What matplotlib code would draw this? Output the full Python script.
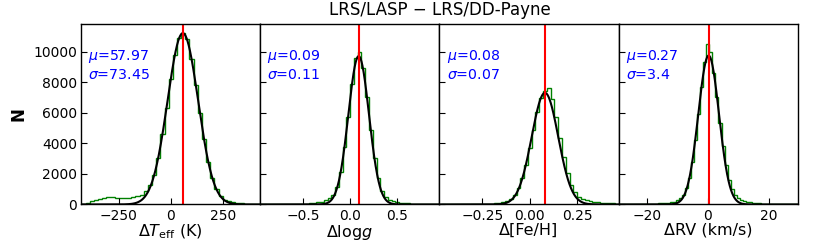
import numpy as np
import matplotlib
matplotlib.use("Agg")
import matplotlib.pyplot as plt

# ---- data ----
xlabels = [r"Δ$T_{\rm eff}$ (K)", r"Δlog$g$", "Δ[Fe/H]", "ΔRV (km/s)"]
mu_vals = [57.97, 0.09, 0.08, 0.27]
sigma_vals = [73.45, 0.11, 0.07, 3.4]
mu_text = ["57.97", "0.09", "0.08", "0.27"]
sigma_text = ["73.45", "0.11", "0.07", "3.4"]
fit_amp = [11200, 9700, 7300, 9740]
xlims = [(-432, 430), (-0.96, 0.95), (-0.477, 0.468), (-29.3, 29.5)]
xticks = [[-250, 0, 250], [-0.5, 0.0, 0.5], [-0.25, 0.00, 0.25], [-20, 0, 20]]
yticks = [0, 2000, 4000, 6000, 8000, 10000]

teff_edges = np.arange(-430, 431, 20)
teff_counts = [40, 110, 200, 300, 380, 430, 460, 470, 450, 420, 400, 420, 480, 560, 650,
               850, 1250, 1950, 3050, 4600, 6300, 8200, 9800, 10900, 11200, 10800, 9500,
               7800, 6000, 4250, 2800, 1750, 1000, 560, 320, 200, 140, 100, 75, 55, 40, 30, 25]

logg_edges = np.linspace(-0.96, 0.96, 49)
logg_counts = [5, 5, 5, 8, 8, 10, 12, 15, 20, 25,
               30, 40, 55, 75, 100, 140, 190, 270, 400, 650, 1150, 2150, 3750, 5750, 7900,
               9600, 10000, 8900, 7000, 4900, 3050, 1700, 900, 500, 320, 220, 160, 120, 90,
               70, 55, 45, 35, 28, 22, 18, 15, 12]

feh_edges = np.linspace(-0.47, 0.47, 48)
feh_counts = [5, 5, 6, 7, 8, 10, 12, 15, 18, 22, 28, 35, 45, 60,
              80, 110, 160, 240, 380, 620, 1050, 1700, 2600, 3700, 4900, 6050, 6950, 7450,
              7600, 6900, 5700, 4350, 3100, 2050, 1300, 800, 520, 370, 280, 220, 175, 140,
              115, 95, 80, 68, 58]

rv_edges = np.arange(-29.5, 29.6, 1.0)
rv_counts = [10, 12, 14, 16, 18, 21, 24, 28, 32, 37, 43, 50, 58, 68, 80, 95, 115, 145, 190,
             270, 400, 640, 1050, 1750, 2800, 4200, 5900, 7700, 9300,
             10500, 10000, 8600, 7000, 5300, 3800, 2550, 1600, 1000, 620, 400, 280, 210, 165,
             130, 105, 85, 70, 58, 48, 40, 34, 29, 25, 21, 18, 15, 13, 11, 9]

edges_all = [teff_edges, logg_edges, feh_edges, rv_edges]
counts_all = [teff_counts, logg_counts, feh_counts, rv_counts]

# ---- plot ----
fig = plt.figure(figsize=(8.14, 2.44), dpi=100)
fig.subplots_adjust(left=0.0995, right=0.980, bottom=0.162, top=0.9016, wspace=0)
axes = fig.subplots(1, 4, sharey=True)

for i, ax in enumerate(axes):
    e = np.asarray(edges_all[i])
    c = np.asarray(counts_all[i], dtype=float)
    ax.stairs(c, e, color="green", lw=1.0)
    x = np.linspace(xlims[i][0], xlims[i][1], 600)
    ax.plot(x, fit_amp[i] * np.exp(-(x - mu_vals[i]) ** 2 / (2 * sigma_vals[i] ** 2)),
            color="black", lw=1.5)
    ax.axvline(mu_vals[i], color="red", lw=1.5)
    ax.set_xlim(*xlims[i])
    ax.set_ylim(0, 11800)
    ax.set_xticks(xticks[i])
    ax.set_yticks(yticks)
    ax.tick_params(direction="in", labelsize=10, length=4, pad=3)
    ax.set_xlabel(xlabels[i], fontsize=11.5, labelpad=0)
    ax.text(0.04, 0.82, r"$\mu$=" + mu_text[i], transform=ax.transAxes, color="blue",
            fontsize=10.2, va="center", ha="left")
    ax.text(0.04, 0.715, r"$\sigma$=" + sigma_text[i], transform=ax.transAxes, color="blue",
            fontsize=10.2, va="center", ha="left")
    for s in ax.spines.values():
        s.set_linewidth(1.0)
    if i > 0:
        ax.tick_params(labelleft=False)

axes[0].set_ylabel("N", fontsize=12, fontweight="bold")
fig.suptitle("LRS/LASP − LRS/DD-Payne", x=0.54, y=0.995, fontsize=12)

fig.savefig("out.png", dpi=100)
